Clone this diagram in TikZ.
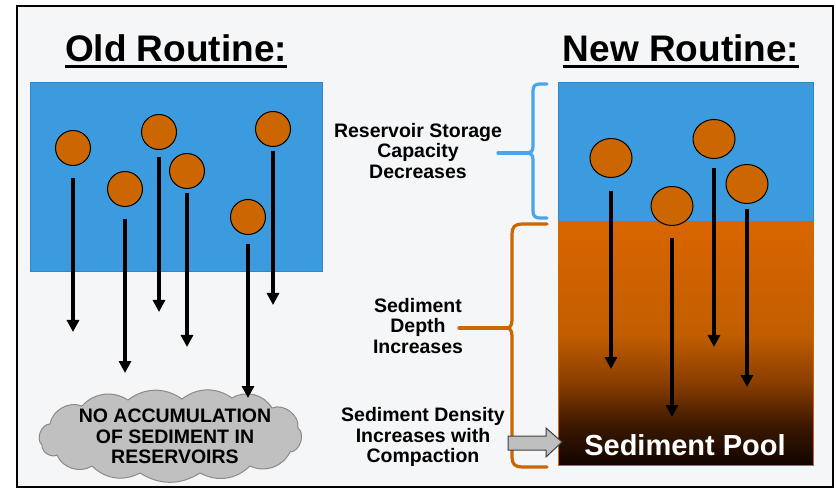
\documentclass[tikz,border=0pt]{standalone}
\usepackage{fontspec}
\setmainfont{Liberation Sans}
\usetikzlibrary{arrows.meta,shapes.geometric}
\definecolor{bgc}{HTML}{F5F6F8}
\definecolor{water}{HTML}{3C9BDE}
\definecolor{wateredge}{HTML}{2F86C6}
\definecolor{sedc}{HTML}{CC6600}
\definecolor{bracblue}{HTML}{4BA5E8}
\definecolor{bracorange}{HTML}{CC6600}
\definecolor{cloudc}{HTML}{C0C0C0}
\definecolor{cloudedge}{HTML}{8A8A8A}
\definecolor{grayarrow}{HTML}{BFBFBF}
\definecolor{sA}{HTML}{120500}
\definecolor{sB}{HTML}{3A1700}
\definecolor{sC}{HTML}{8A3E00}
\definecolor{sD}{HTML}{C25E00}
\definecolor{sE}{HTML}{D96500}
\pgfdeclareverticalshading{sedshade}{100bp}{color(0bp)=(sA); color(25bp)=(sA); color(33bp)=(sB); color(42bp)=(sC); color(52bp)=(sD); color(75bp)=(sE); color(100bp)=(sE)}
\tikzset{
  title/.style={font=\bfseries\fontsize{37}{40}\selectfont, inner sep=0pt, anchor=base},
  label/.style={font=\bfseries\fontsize{19.5}{20.5}\selectfont, inner sep=0pt, align=center},
  grain/.style={circle, draw=black, line width=1pt, fill=sedc, minimum size=35pt, inner sep=0pt},
  grainN/.style={ellipse, draw=black, line width=1pt, fill=sedc, minimum width=42pt, minimum height=39pt, inner sep=0pt},
  fall/.style={line width=3.5pt, -{Triangle[width=12pt,length=12pt]}},
  bracestyle/.style={line width=3.2pt, line cap=round, line join=round},
  puff/.style={bend left=#1},
}
\begin{document}
\begin{tikzpicture}[x=1pt,y=-1pt]
\useasboundingbox (0,0) rectangle (836,489);
\fill[white] (0,0) rectangle (836,489);
\draw[line width=2pt, fill=bgc] (17,6) rectangle (833,487);

% titles
\node[title] (oldt) at (176,62) {Old Routine:};
\draw[line width=3pt] ([yshift=-5pt]oldt.base west) -- ([yshift=-5pt]oldt.base east);
\node[title] (newt) at (681,62) {New Routine:};
\draw[line width=3pt] ([yshift=-5pt]newt.base west) -- ([yshift=-5pt]newt.base east);

% old reservoir
\draw[fill=water, draw=wateredge, line width=0.8pt] (30,82) rectangle (322,271);

% new reservoir
\draw[fill=water, draw=wateredge, line width=0.8pt] (558,82) rectangle (813,222);
\shade[shading=sedshade] (558,222) rectangle (813,465);
\draw[draw=sedc, line width=1pt] (558,222) rectangle (813,465);

% old grains
\node[grain] (o1) at (73,148) {};
\node[grain] (o2) at (125,189) {};
\node[grain] (o3) at (159,132) {};
\node[grain] (o4) at (187,171) {};
\node[grain] (o5) at (248,217) {};
\node[grain] (o6) at (273,129) {};

\coordinate (oe1) at (73,332);
\coordinate (oe2) at (125,373);
\coordinate (oe3) at (159,312);
\coordinate (oe4) at (187,347);
\coordinate (oe6) at (273,305);

\draw[fall] ([yshift=-12pt]o1.south) -- (oe1);
\draw[fall] ([yshift=-12pt]o2.south) -- (oe2);
\draw[fall] ([yshift=-7pt]o3.south) -- (oe3);
\draw[fall] ([yshift=-4pt]o4.south) -- (oe4);
\draw[fall] ([yshift=-4pt]o6.south) -- (oe6);

% cloud
\draw[fill=cloudc, draw=cloudedge, line width=1pt]
  (42,445) to[puff=70] (50,424) to[puff=50] (82,406) to[puff=40] (128,400)
  to[puff=36] (182,399) to[puff=36] (232,398) to[puff=45] (272,408)
  to[puff=60] (298,428) to[puff=70] (290,452) to[puff=45] (250,466)
  to[puff=36] (200,473) to[puff=32] (140,473) to[puff=36] (92,466)
  to[puff=50] (57,455) to[puff=60] cycle;
\node[label] (cloudtxt) at (175,436.5) {NO ACCUMULATION\\OF SEDIMENT IN\\RESERVOIRS};
\draw[fall] ([yshift=-9pt]o5.south) -- (248,398) coordinate (oe5);

% new grains
\node[grainN] (n1) at (611,158) {};
\node[grainN] (n2) at (672,206) {};
\node[grainN] (n3) at (714,139) {};
\node[grainN] (n4) at (747,184) {};

\coordinate (ne1) at (611,369);
\coordinate (ne2) at (672,417);
\coordinate (ne3) at (714,347);
\coordinate (ne4) at (747,387);

\draw[fall] ([yshift=-13pt]n1.south) -- (ne1);
\draw[fall] ([yshift=-12pt]n2.south) -- (ne2);
\draw[fall] ([yshift=-9pt]n3.south) -- (ne3);
\draw[fall] ([yshift=-5pt]n4.south) -- (ne4);

\node[font=\bfseries\fontsize{29}{30}\selectfont, text=white, inner sep=0pt, anchor=base] (pool) at (685,455) {Sediment Pool};

% braces
\draw[bracestyle, draw=bracblue] (547,84) -- (540,84) .. controls (535,84) and (533,86) .. (533,91) -- (533,146) .. controls (533,151) and (531,153) .. (528,153) .. controls (531,153) and (533,155) .. (533,160) -- (533,211) .. controls (533,216) and (535,218) .. (540,218) -- (547,218);
\coordinate (bluetip) at (528,153);
\coordinate (bluestub) at (498,153);
\draw[bracestyle, draw=bracblue] (bluestub) -- (bluetip);

\draw[bracestyle, draw=bracorange] (547,224) -- (522,224) .. controls (515,224) and (512,227) .. (512,234) -- (512,320) .. controls (512,326) and (510,328) .. (506,328) .. controls (510,328) and (512,330) .. (512,336) -- (512,457) .. controls (512,464) and (515,467) .. (522,467) -- (547,467);
\coordinate (orangetip) at (506,328);
\coordinate (orangestub) at (459,328);
\draw[bracestyle, draw=bracorange] (orangestub) -- (orangetip);

% labels
\node[label] (cap) at (418,151) {Reservoir Storage\\Capacity\\Decreases};
\node[label] (depth) at (418,326) {Sediment\\Depth\\Increases};
\node[label] (dens) at (423,437) {Sediment Density\\Increases with\\Compaction};

% gray block arrow
\draw[fill=grayarrow, draw=black!75, line width=1pt, line join=miter] (508,436) -- (546,436) -- (546,428) -- (562,442) -- (546,457) -- (546,450) -- (508,450) -- cycle;
\end{tikzpicture}
\end{document}
